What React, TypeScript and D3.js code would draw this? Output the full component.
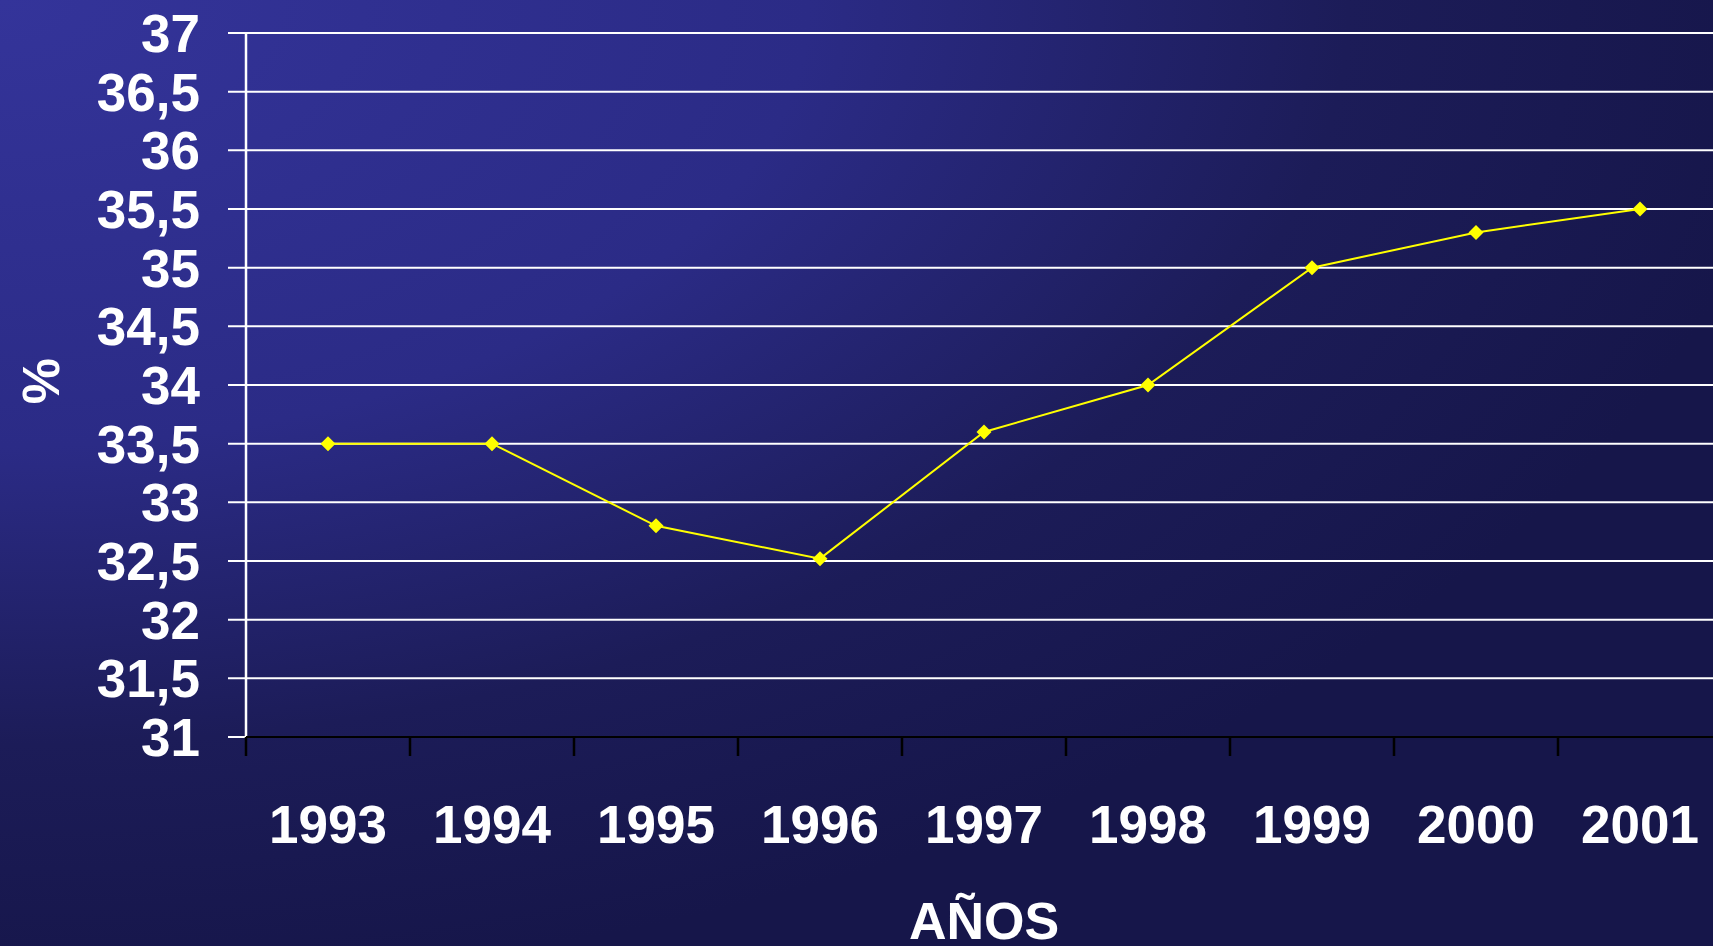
import React from "react";
import * as d3 from "d3";

const years = ["1993", "1994", "1995", "1996", "1997", "1998", "1999", "2000", "2001"];
const values = [33.5, 33.5, 32.8, 32.52, 33.6, 34.0, 35.0, 35.3, 35.5];
const yTicks = [31, 31.5, 32, 32.5, 33, 33.5, 34, 34.5, 35, 35.5, 36, 36.5, 37];

const W = 1713;
const H = 946;

export default function App() {
  const x = d3.scaleBand<string>().domain(years).range([246, 246 + 9 * 164]).padding(0);
  const y = d3.scaleLinear().domain([31, 37]).range([737, 33]);
  const fmt = (v: number) => String(v).replace(".", ",");
  const line = d3
    .line<number>()
    .x((_, i) => (x(years[i]) as number) + x.bandwidth() / 2)
    .y((d) => y(d));
  const font = "'Liberation Sans', Arial, Helvetica, sans-serif";
  const boundaries = years.map((yr) => x(yr) as number);

  return (
    <svg
      width={W}
      height={H}
      style={{ position: "absolute", left: 0, top: 0, display: "block" }}
      fontFamily={font}
    >
      <defs>
        <radialGradient id="bg" cx="0" cy="0" r="1.05" gradientUnits="objectBoundingBox">
          <stop offset="0" stopColor="#34349a" />
          <stop offset="0.45" stopColor="#2b2b86" />
          <stop offset="0.75" stopColor="#1c1c58" />
          <stop offset="1" stopColor="#16164a" />
        </radialGradient>
      </defs>
      <rect x={0} y={0} width={W} height={H} fill="url(#bg)" />

      {/* gridlines */}
      {yTicks.map((t) => (
        <line key={"g" + t} x1={228} x2={W} y1={y(t)} y2={y(t)} stroke="#ffffff" strokeWidth={2} />
      ))}

      {/* y axis */}
      <line x1={246} x2={246} y1={y(37)} y2={y(31)} stroke="#ffffff" strokeWidth={2.5} />

      {/* x axis */}
      <line x1={246} x2={W} y1={y(31)} y2={y(31)} stroke="#000000" strokeWidth={2} />
      {boundaries.map((bx, i) => (
        <line key={"t" + i} x1={bx} x2={bx} y1={y(31)} y2={756} stroke="#000000" strokeWidth={2.5} />
      ))}

      {/* y tick labels */}
      {yTicks.map((t) => (
        <text
          key={"l" + t}
          x={200}
          y={y(t)}
          dy="0.36em"
          textAnchor="end"
          fill="#ffffff"
          fontWeight="bold"
          fontSize={53}
        >
          {fmt(t)}
        </text>
      ))}

      {/* x tick labels */}
      {years.map((yr) => (
        <text
          key={"x" + yr}
          x={(x(yr) as number) + x.bandwidth() / 2}
          y={843}
          textAnchor="middle"
          fill="#ffffff"
          fontWeight="bold"
          fontSize={53}
        >
          {yr}
        </text>
      ))}

      {/* series */}
      <path d={line(values) || ""} fill="none" stroke="#ffff00" strokeWidth={2} />
      {values.map((v, i) => {
        const cx = (x(years[i]) as number) + x.bandwidth() / 2;
        const cy = y(v);
        const r = 7.5;
        return (
          <path
            key={"m" + i}
            d={`M${cx},${cy - r}L${cx + r},${cy}L${cx},${cy + r}L${cx - r},${cy}Z`}
            fill="#ffff00"
          />
        );
      })}

      {/* axis titles */}
      <text x={984} y={939} textAnchor="middle" fill="#ffffff" fontWeight="bold" fontSize={52}>
        AÑOS
      </text>
      <text
        transform="translate(59,381) rotate(-90)"
        textAnchor="middle"
        fill="#ffffff"
        fontWeight="bold"
        fontSize={52}
      >
        %
      </text>
    </svg>
  );
}
